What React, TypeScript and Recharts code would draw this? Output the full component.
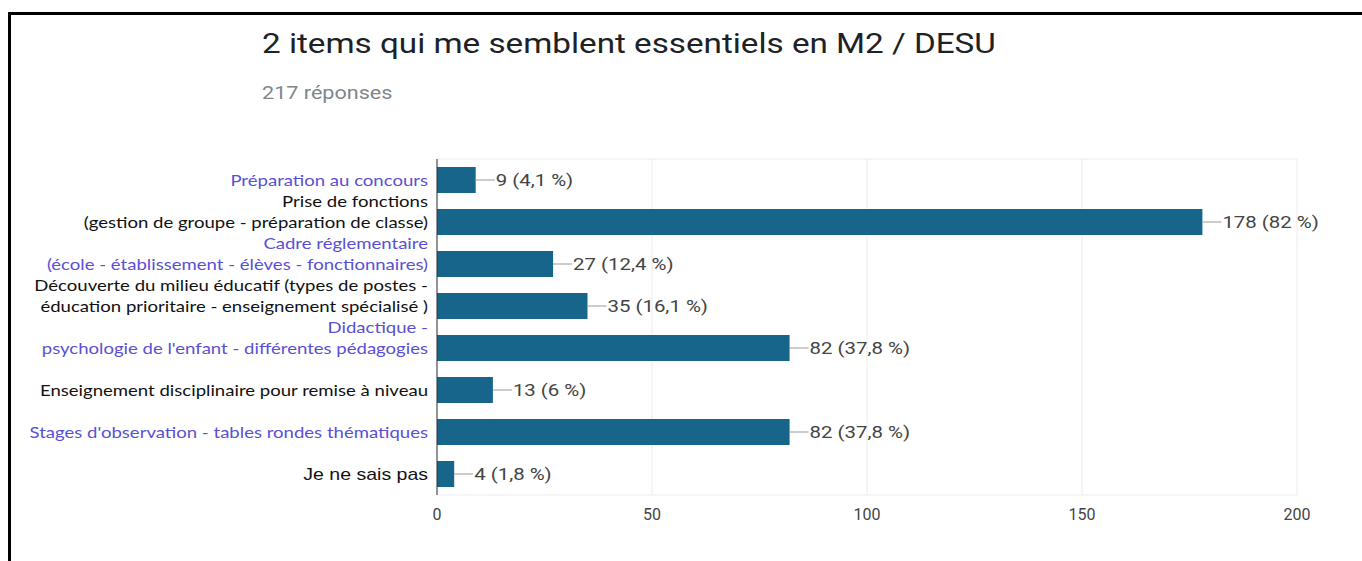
import React from 'react'
import {
  BarChart,
  Bar,
  XAxis,
  YAxis,
  CartesianGrid,
  LabelList,
} from 'recharts'

const categories = [
  'Préparation au concours',
  'Prise de fonctions\n(gestion de groupe - préparation de classe)',
  'Cadre réglementaire\n(école - établissement - élèves - fonctionnaires)',
  'Découverte du milieu éducatif  (types de postes -\néducation prioritaire - enseignement spécialisé )',
  'Didactique -\npsychologie de l\'enfant - différentes pédagogies',
  'Enseignement disciplinaire pour remise à niveau',
  'Stages d\'observation - tables rondes thématiques',
  'Je ne sais pas',
]
const counts = [9, 178, 27, 35, 82, 13, 82, 4]
const percents = ['4,1', '82', '12,4', '16,1', '37,8', '6', '37,8', '1,8']
const xTicks = [0, 50, 100, 150, 200]

const TITLE = '2 items qui me semblent essentiels en M2 / DESU'
const SUBTITLE = '217 réponses'

// label colours alternate purple / black like the pasted image
const LABEL_COLORS = ['#5a4fd6', '#111', '#5a4fd6', '#111', '#5a4fd6', '#111', '#5a4fd6', '#111']
const BAR_COLOR = '#18658b'
// the source screenshot is stretched horizontally
const STRETCH = 1.2

const data = categories.map((name, i) => ({
  name,
  count: counts[i],
  pct: percents[i],
}))

const CategoryTick = (props: any) => {
  const { x, y, payload, index } = props
  const i = typeof index === 'number' ? index : categories.indexOf(payload.value)
  const lines = String(payload.value).split('\n')
  const last = i === categories.length - 1
  const sx = last ? 1.22 : 1.16
  return (
    <g>
      {lines.map((line, k) => (
        <text
          key={k}
          transform={`translate(${x - 1},${y - (lines.length - 1 - k) * 21}) scale(${sx},1)`}
          dy="0.35em"
          textAnchor="end"
          fill={LABEL_COLORS[i]}
          fontFamily={last ? '"Liberation Sans", Arial, sans-serif' : 'Lato, sans-serif'}
          fontSize={16}
        >
          {line}
        </text>
      ))}
    </g>
  )
}

const ValueLabel = (props: any) => {
  const { x, y, width, height, index } = props
  const xe = x + width
  const yc = y + height / 2
  return (
    <g>
      <line x1={xe} x2={xe + 19} y1={yc} y2={yc} stroke="#999" strokeWidth={1} />
      <text
        transform={`translate(${xe + 20},${yc}) scale(${STRETCH},1)`}
        dy="0.35em"
        fill="#444"
        fontFamily="Roboto, sans-serif"
        fontSize={17}
      >
        {`${counts[index]} (${percents[index]} %)`}
      </text>
    </g>
  )
}

export default function App() {
  return (
    <div
      style={{
        position: 'absolute',
        left: 0,
        top: 0,
        width: 1362,
        height: 561,
        background: '#fff',
        overflow: 'hidden',
      }}
    >
      <div style={{ position: 'absolute', left: 8, top: 12, width: 1354, height: 3, background: '#000' }} />
      <div style={{ position: 'absolute', left: 8, top: 12, width: 3, height: 549, background: '#000' }} />
      <div
        style={{
          position: 'absolute',
          left: 262,
          top: 28,
          fontFamily: 'Roboto, sans-serif',
          fontSize: 27,
          color: '#202124',
          whiteSpace: 'nowrap',
          transform: 'scaleX(1.23)',
          transformOrigin: 'left center',
        }}
      >
        {TITLE}
      </div>
      <div
        style={{
          position: 'absolute',
          left: 262,
          top: 82,
          fontFamily: 'Roboto, sans-serif',
          fontSize: 18,
          color: '#80868b',
          whiteSpace: 'nowrap',
          transform: 'scaleX(1.2)',
          transformOrigin: 'left center',
        }}
      >
        {SUBTITLE}
      </div>
      <div style={{ position: 'absolute', left: 0, top: 0 }}>
        <BarChart
          width={1362}
          height={561}
          data={data}
          layout="vertical"
          barSize={26}
          margin={{ top: 159, right: 65, bottom: 36, left: 10 }}
        >
          <CartesianGrid
            stroke="#ebebeb"
            horizontalCoordinatesGenerator={({ offset }: any) => [offset.top, offset.top + offset.height]}
          />
          <XAxis
            type="number"
            domain={[0, 200]}
            ticks={xTicks}
            axisLine={false}
            tickLine={false}
            height={30}
            tick={{ fill: '#444', fontSize: 16, fontFamily: 'Roboto, sans-serif' }}
            tickMargin={8}
          />
          <YAxis
            type="category"
            dataKey="name"
            width={427}
            axisLine={{ stroke: '#333', strokeWidth: 1 }}
            tickLine={false}
            interval={0}
            tick={<CategoryTick />}
          />
          <Bar dataKey="count" fill={BAR_COLOR} isAnimationActive={false}>
            <LabelList dataKey="count" content={<ValueLabel />} />
          </Bar>
        </BarChart>
      </div>
    </div>
  )
}
